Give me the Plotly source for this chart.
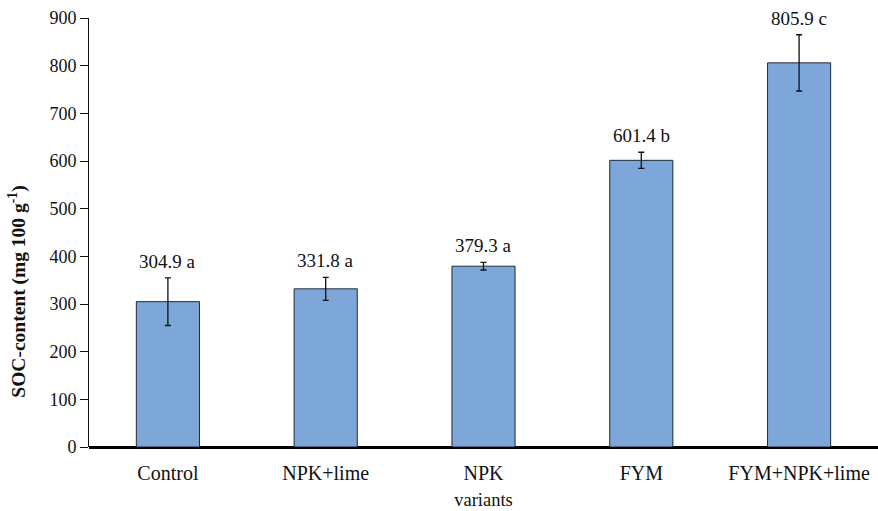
import plotly.graph_objects as go

# Soil organic carbon content by fertilisation variant
variants = ["Control", "NPK+lime", "NPK", "FYM", "FYM+NPK+lime"]
soc_mean = [304.9, 331.8, 379.3, 601.4, 805.9]
soc_err = [50, 24, 8, 17, 59]
groups = ["a", "a", "a", "b", "c"]

SERIF = "Times New Roman, Liberation Serif, DejaVu Serif, serif"

fig = go.Figure()
fig.add_trace(go.Bar(
    x=variants,
    y=soc_mean,
    width=0.4,
    marker=dict(color="#7DA7D8", line=dict(color="#1F2A36", width=1)),
    error_y=dict(type="data", array=soc_err, visible=True,
                 color="#111111", thickness=1.3, width=3),
    showlegend=False,
))

# Mean value and significance group above each error bar
for v, m, e, g in zip(variants, soc_mean, soc_err, groups):
    fig.add_annotation(
        x=v, y=m + e, text=f"{m:.1f} {g}", showarrow=False,
        yanchor="bottom", yshift=4,
        font=dict(family=SERIF, size=19, color="#111111"),
    )

# Y-axis title, placed slightly below the middle of the axis
fig.add_annotation(
    xref="paper", yref="paper", x=-0.09, y=0.362,
    xanchor="center", yanchor="middle", textangle=-90, showarrow=False,
    text="<b>SOC-content (mg 100 g<sup>-1</sup>)</b>",
    font=dict(family=SERIF, size=19.5, color="#111111"),
)

fig.update_layout(
    width=878, height=511,
    margin=dict(l=89, r=0, t=18, b=64),
    paper_bgcolor="white", plot_bgcolor="white",
    font=dict(family=SERIF, size=18, color="#111111"),
    bargap=0.6,
)
fig.update_xaxes(
    title=dict(text="variants", font=dict(size=18.5), standoff=10),
    showline=False, ticks="", tickfont=dict(size=20),
    ticklabelstandoff=12, zeroline=False,
)
fig.update_yaxes(
    range=[0, 900], dtick=100, showgrid=False,
    showline=True, linecolor="#111111", linewidth=1,
    ticks="outside", ticklen=8, tickcolor="#111111",
    zeroline=True, zerolinecolor="#000000", zerolinewidth=3,
    tickfont=dict(size=18),
)

fig.write_html("out.html")
